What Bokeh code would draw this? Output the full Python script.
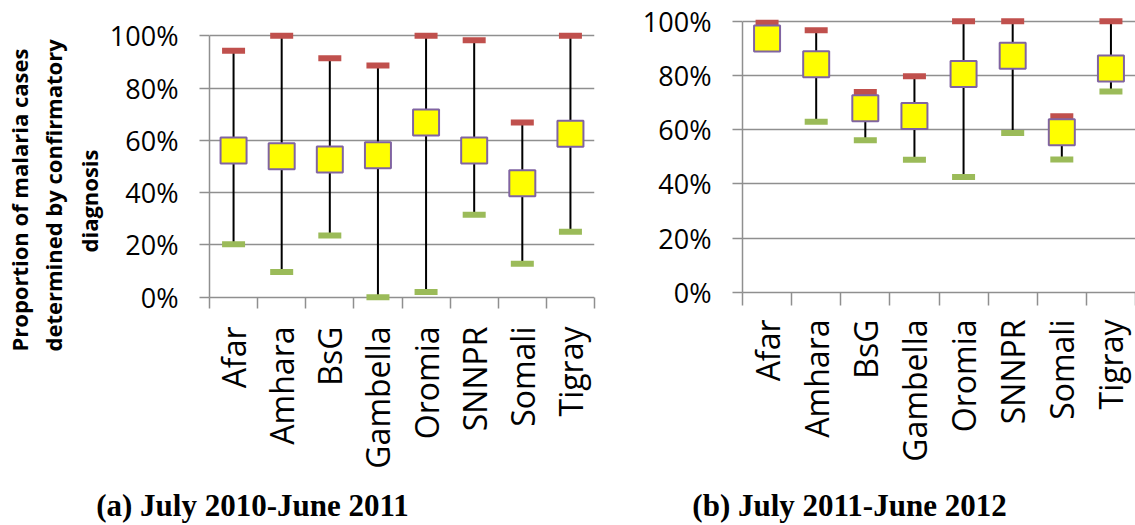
import math
from bokeh.plotting import figure
from bokeh.models import Range1d, FixedTicker, Label, Title
from bokeh.layouts import row, column
from bokeh.embed import file_html
from bokeh.resources import INLINE

# ---------------- data ----------------
regions = ["Afar", "Amhara", "BsG", "Gambella", "Oromia", "SNNPR", "Somali", "Tigray"]

# (a) July 2010 - June 2011  (percent)
a_min = [20.3, 9.6, 23.6, 0.0, 2.0, 31.5, 12.8, 25.0]
a_mean = [56.1, 53.9, 52.7, 54.3, 66.8, 56.1, 43.6, 62.5]
a_max = [94.3, 100.0, 91.4, 88.6, 100.0, 98.3, 66.8, 100.0]

# (b) July 2011 - June 2012  (percent)
b_min = [90.0, 62.9, 56.1, 48.9, 42.6, 58.8, 49.0, 74.1]
b_mean = [93.6, 84.1, 67.9, 65.1, 80.5, 87.3, 59.1, 82.6]
b_max = [99.4, 96.7, 73.9, 79.7, 100.0, 100.0, 65.0, 100.0]

y_ticks = [0, 20, 40, 60, 80, 100]
y_title_lines = ["Proportion of malaria cases", "determined by confirmatory", "diagnosis"]
caption_a = "(a) July 2010-June 2011"
caption_b = "(b) July 2011-June 2012"

# ---------------- style ----------------
GRID = "#8f8f8f"
RED = "#C0504D"
GREEN = "#9BBB59"
BOXFILL = "#FFFF00"
BOXLINE = "#8064A2"
FONT = "Open Sans"
H = 480          # height of the chart row
CAP_H = 45       # height of the caption strip
# layout of the three y-title lines (offset from frame bottom, standoff)
title_offsets = [-47, -47, 52]
title_standoffs = [2, 2, 6]


def panel(mins, means, maxs, width, bl, br, yr, tick_in, tick_out, standoff):
    n = len(regions)
    xs = [i + 0.5 for i in range(n)]
    p = figure(width=width, height=H, x_range=Range1d(0, n), y_range=Range1d(*yr),
               min_border_left=bl, min_border_right=br, min_border_top=14, min_border_bottom=176,
               title=None, output_backend="svg", toolbar_location=None)
    p.outline_line_color = None
    p.background_fill_color = "white"
    p.border_fill_color = "white"

    p.xgrid.visible = False
    p.ygrid.ticker = FixedTicker(ticks=y_ticks)
    p.ygrid.grid_line_color = GRID
    p.ygrid.grid_line_width = 1.5

    ya = p.yaxis[0]
    ya.ticker = FixedTicker(ticks=y_ticks)
    ya.major_label_overrides = {t: f"{t}%" for t in y_ticks}
    ya.bounds = (0, 100)
    ya.axis_line_color = GRID
    ya.axis_line_width = 1.5
    ya.major_tick_line_color = GRID
    ya.major_tick_line_width = 1.5
    ya.major_tick_out = 10
    ya.major_tick_in = 0
    ya.minor_tick_line_color = None
    ya.major_label_text_font = FONT
    ya.major_label_text_font_size = "27px"
    ya.major_label_text_color = "black"
    ya.major_label_standoff = 21

    xa = p.xaxis[0]
    xa.ticker = FixedTicker(ticks=xs, minor_ticks=list(range(n + 1)))
    xa.major_label_overrides = {x: r for x, r in zip(xs, regions)}
    xa.axis_line_color = None
    xa.major_tick_line_color = None
    xa.major_tick_out = 0
    xa.major_tick_in = 0
    xa.minor_tick_line_color = GRID
    xa.minor_tick_line_width = 1.5
    xa.minor_tick_in = tick_in
    xa.minor_tick_out = tick_out
    xa.major_label_orientation = math.pi / 2
    xa.major_label_text_font = FONT
    xa.major_label_text_font_size = "32px"
    xa.major_label_text_color = "black"
    xa.major_label_standoff = standoff

    p.segment(x0=xs, y0=mins, x1=xs, y1=maxs, line_color="black", line_width=2)
    p.rect(x=xs, y=maxs, width=23, height=6, width_units="screen", height_units="screen",
           fill_color=RED, line_color=None)
    p.rect(x=xs, y=mins, width=23, height=6, width_units="screen", height_units="screen",
           fill_color=GREEN, line_color=None)
    p.scatter(x=xs, y=means, marker="square", size=26, fill_color=BOXFILL,
              line_color=BOXLINE, line_width=2)
    return p


def blank(width, height):
    f = figure(width=width, height=height, x_range=Range1d(0, width), y_range=Range1d(0, height),
               x_axis_type=None, y_axis_type=None, min_border=0, title=None,
               output_backend="svg", toolbar_location=None)
    f.outline_line_color = None
    f.xgrid.visible = False
    f.ygrid.visible = False
    return f


left = panel(a_min, a_mean, a_max, 620, 206, 26, (-2.79, 108.15), 7, 4, 18)
right = panel(b_min, b_mean, b_max, 1135 - 620, 122, 0, (-4.42, 102.47), 12, 1, 14)

# y-axis title: three stacked titles, nearest line (last) first
for line, off, so in reversed(list(zip(y_title_lines, title_offsets, title_standoffs))):
    left.add_layout(Title(text=line, align="left", offset=off, standoff=so,
                          text_font=FONT, text_font_style="bold", text_font_size="22px",
                          text_color="black"), "left")

cap_fig = blank(1135, CAP_H)
cap_fig.add_layout(Label(x=252, y=20, text=caption_a, text_align="center",
                         text_baseline="alphabetic", text_font="Liberation Serif",
                         text_font_style="bold", text_font_size="31px", text_color="black"))
cap_fig.add_layout(Label(x=849, y=20, text=caption_b, text_align="center",
                         text_baseline="alphabetic", text_font="Liberation Serif",
                         text_font_style="bold", text_font_size="31px", text_color="black"))

layout = column(row(left, right, spacing=0), cap_fig, spacing=0)
open("out.html", "w").write(file_html(layout, INLINE))
